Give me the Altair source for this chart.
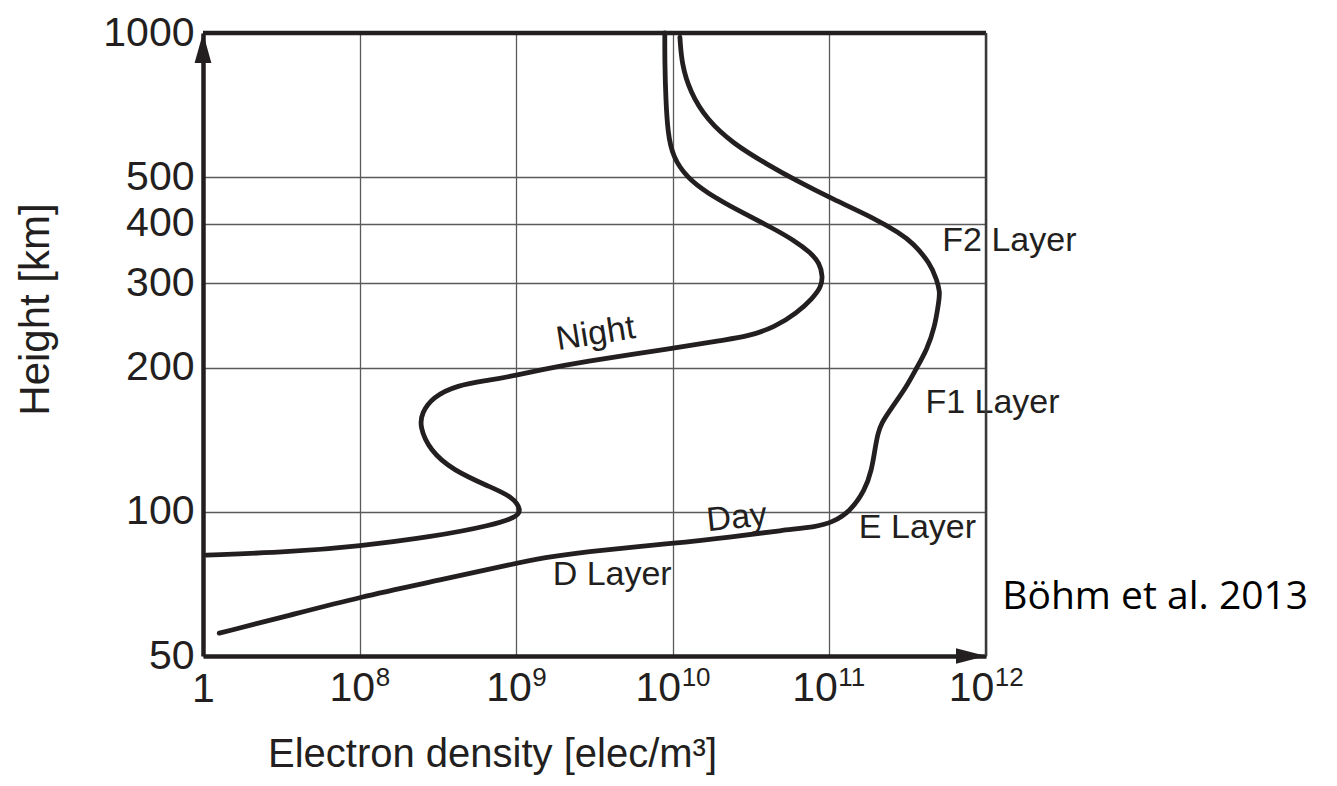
import altair as alt
import pandas as pd

# Electron density profiles (elec/m^3) against height (km)
night_density = [1.05e7, 3.73e7, 9.86e7, 2.92e8, 7.08e8, 1.01e9, 1.08e9, 9.50e8, 6.78e8,
                 3.93e8, 2.80e8, 2.42e8, 2.49e8, 2.92e8, 4.17e8, 6.78e8, 1.01e9, 1.41e9,
                 2.55e9, 1.03e10, 2.08e10, 2.97e10, 4.49e10, 6.20e10, 7.83e10, 8.83e10,
                 9.08e10, 8.69e10, 7.50e10, 6.03e10, 4.36e10, 2.68e10, 1.65e10, 1.23e10,
                 1.00e10, 9.29e9, 9.02e9, 8.89e9, 8.89e9]
night_height = [81.2, 82.5, 84.8, 88.7, 93.8, 97.6, 100.8, 107.5, 112.8,
                122.2, 134.6, 150.6, 160.8, 173.5, 183.9, 188.4, 193.0, 197.7,
                205.5, 219.8, 228.4, 232.1, 243.1, 260.1, 279.5, 294.7,
                309.3, 330.8, 348.8, 367.8, 391.3, 424.0, 463.6, 499.0,
                551.0, 618.0, 728.0, 861.0, 1000.0]

day_density = [1.27e7, 3.57e7, 9.86e7, 3.24e8, 9.93e8, 1.52e9, 2.55e9, 1.03e10, 2.31e10,
               5.05e10, 8.32e10, 1.05e11,
               1.35e11, 1.69e11, 1.86e11, 1.95e11, 2.04e11, 2.15e11, 2.44e11, 3.11e11,
               3.61e11, 4.18e11, 4.72e11, 5.01e11, 5.08e11, 4.86e11, 4.39e11, 3.42e11,
               2.82e11, 1.90e11, 1.05e11, 6.20e10, 3.99e10, 2.42e10, 1.65e10, 1.29e10,
               1.14e10, 1.11e10]
day_height = [55.8, 60.8, 66.3, 72.0, 78.1, 80.2, 82.4, 86.0, 88.5,
              91.6, 93.0, 95.2,
              100.0, 111.0, 122.2, 134.6, 146.0, 153.2, 163.2, 182.4,
              200.0, 217.6, 243.5, 276.8, 287.7, 304.8, 330.8, 364.1,
              381.6, 411.8, 449.8, 490.9, 532.0, 588.0, 659.0, 753.0,
              861.0, 980.0]

# Axis ticks: the left end is labelled "1", the others as powers of ten
x_tick_values = [1e7, 1e8, 1e9, 1e10, 1e11, 1e12]
x_tick_base = ["1", "10", "10", "10", "10", "10"]
x_tick_exponent = ["", "8", "9", "10", "11", "12"]
y_tick_values = [50, 100, 200, 300, 400, 500, 1000]

# Layer annotations (centre positions in data space)
label_text = ["Night", "Day", "D Layer", "E Layer", "F1 Layer", "F2 Layer"]
label_density = [3.22e9, 2.56e10, 4.10e9, 3.65e11, 1.10e12, 1.41e12]
label_height = [235.0, 97.0, 73.9, 92.7, 168.7, 367.8]
label_angle = [351, 354, 0, 0, 0, 0]

source_text = ["Böhm et al. 2013"]
source_density = [1.27e12]
source_height = [66.3]

INK = "#231f20"
FONT = "Liberation Sans"
TICK_SIZE = 41
EXP_SIZE = 26

profiles = pd.concat([
    pd.DataFrame({"series": "Night", "i": range(len(night_density)),
                  "n": night_density, "h": night_height}),
    pd.DataFrame({"series": "Day", "i": range(len(day_density)),
                  "n": day_density, "h": day_height}),
])
labels = pd.DataFrame({"text": label_text, "n": label_density,
                       "h": label_height, "angle": label_angle})
source = pd.DataFrame({"text": source_text, "n": source_density, "h": source_height})

x_min, x_max = x_tick_values[0], x_tick_values[-1]
y_min, y_max = y_tick_values[0], y_tick_values[-1]

x_scale = alt.Scale(type="log", domain=[x_min, x_max])
y_scale = alt.Scale(type="log", domain=[y_min, y_max])

x_axis = alt.Axis(
    values=x_tick_values, labelExpr=f"datum.value == {x_min:g} ? '{x_tick_base[0]}' : ''",
    grid=True, gridColor="#5a5a5a", gridWidth=1.3, ticks=False,
    domainColor=INK, domainWidth=4.5,
    labelFont=FONT, labelFontSize=TICK_SIZE, labelColor=INK, labelPadding=13,
    labelFlush=False, labelOverlap=False, labelBound=False,
    title="Electron density [elec/m³]", titleFont=FONT, titleFontSize=40,
    titleFontWeight="normal", titleColor=INK, titleX=289, titleY=110,
    titleAlign="center", titleBaseline="alphabetic",
)
y_axis = alt.Axis(
    values=y_tick_values, format="d", grid=True, gridColor="#5a5a5a", gridWidth=1.3,
    ticks=False, domainColor=INK, domainWidth=4.5,
    labelFont=FONT, labelFontSize=TICK_SIZE, labelColor=INK, labelPadding=9,
    labelFlush=False, labelOverlap=False, labelBound=False, labelBaseline="middle",
    title="Height [km]", titleFont=FONT, titleFontSize=42, titleFontWeight="normal",
    titleColor=INK, titleAngle=270, titleX=-155, titleY=276,
    titleAlign="center", titleBaseline="alphabetic",
)

# Smooth B-spline through the read-off profile points
lines = alt.Chart(profiles).mark_line(
    color=INK, strokeWidth=4.8, interpolate="basis", strokeCap="round"
).encode(
    x=alt.X("n:Q", scale=x_scale, axis=x_axis),
    y=alt.Y("h:Q", scale=y_scale, axis=y_axis),
    detail="series:N",
    order="i:Q",
)

# Power-of-ten tick labels: "10" followed by a raised exponent, centred on the tick
power_layers = []
for n_digits in sorted({len(e) for e in x_tick_exponent if e}):
    rows = pd.DataFrame({
        "n": [v for v, e in zip(x_tick_values, x_tick_exponent) if len(e) == n_digits],
        "h": y_min,
        "base": [b for b, e in zip(x_tick_base, x_tick_exponent) if len(e) == n_digits],
        "exp": [e for e in x_tick_exponent if len(e) == n_digits],
    })
    base_w = 2 * 0.556 * TICK_SIZE
    exp_w = n_digits * 0.556 * EXP_SIZE
    shift = (base_w - exp_w) / 2
    enc = dict(x=alt.X("n:Q", scale=x_scale), y=alt.Y("h:Q", scale=y_scale))
    power_layers.append(alt.Chart(rows).mark_text(
        font=FONT, fontSize=TICK_SIZE, color=INK, align="right", baseline="top",
        dx=shift, dy=13,
    ).encode(text="base:N", **enc))
    power_layers.append(alt.Chart(rows).mark_text(
        font=FONT, fontSize=EXP_SIZE, color=INK, align="left", baseline="top",
        dx=shift + 0.5, dy=9,
    ).encode(text="exp:N", **enc))

text = alt.Chart(labels).mark_text(
    font=FONT, fontSize=34, color=INK, align="center", baseline="middle"
).encode(
    x=alt.X("n:Q", scale=x_scale),
    y=alt.Y("h:Q", scale=y_scale),
    text="text:N",
    angle=alt.Angle("angle:Q", scale=None),
)

source_label = alt.Chart(source).mark_text(
    font="Open Sans", fontSize=39, color="#000000", align="left", baseline="middle"
).encode(
    x=alt.X("n:Q", scale=x_scale),
    y=alt.Y("h:Q", scale=y_scale),
    text="text:N",
)

# Frame: thick top edge, thin right edge (drawn over the labels)
frame = pd.DataFrame({
    "n": [x_min, x_max], "n2": [x_max, x_max],
    "h": [y_max, y_min], "h2": [y_max, y_max],
    "w": [4.5, 2.5], "c": [INK, "#3a3a3a"],
})
frame_rules = alt.Chart(frame).mark_rule().encode(
    x=alt.X("n:Q", scale=x_scale), x2="n2:Q",
    y=alt.Y("h:Q", scale=y_scale), y2="h2:Q",
    strokeWidth=alt.StrokeWidth("w:Q", scale=None),
    color=alt.Color("c:N", scale=None),
)

# Arrowheads at the ends of both axes
arrows = pd.DataFrame({
    "n": [x_min, x_max], "h": [y_max, y_min],
    "shape": ["M0,0L0.28,1L-0.28,1Z", "M0,0L-1,-0.26L-1,0.26Z"],
})
arrow_heads = alt.Chart(arrows).mark_point(
    filled=True, color=INK, opacity=1, size=3600, strokeWidth=0
).encode(
    x=alt.X("n:Q", scale=x_scale),
    y=alt.Y("h:Q", scale=y_scale),
    shape=alt.Shape("shape:N", scale=None),
)

chart = alt.layer(lines, *power_layers, text, source_label, frame_rules, arrow_heads).properties(
    width=783, height=623,
    autosize=alt.AutoSizeParams(type="none"),
    padding={"left": 203, "top": 33, "right": 351, "bottom": 130},
    background="white",
).configure_view(stroke=None)

chart.save("out.html", embed_options={"renderer": "svg", "actions": False})
